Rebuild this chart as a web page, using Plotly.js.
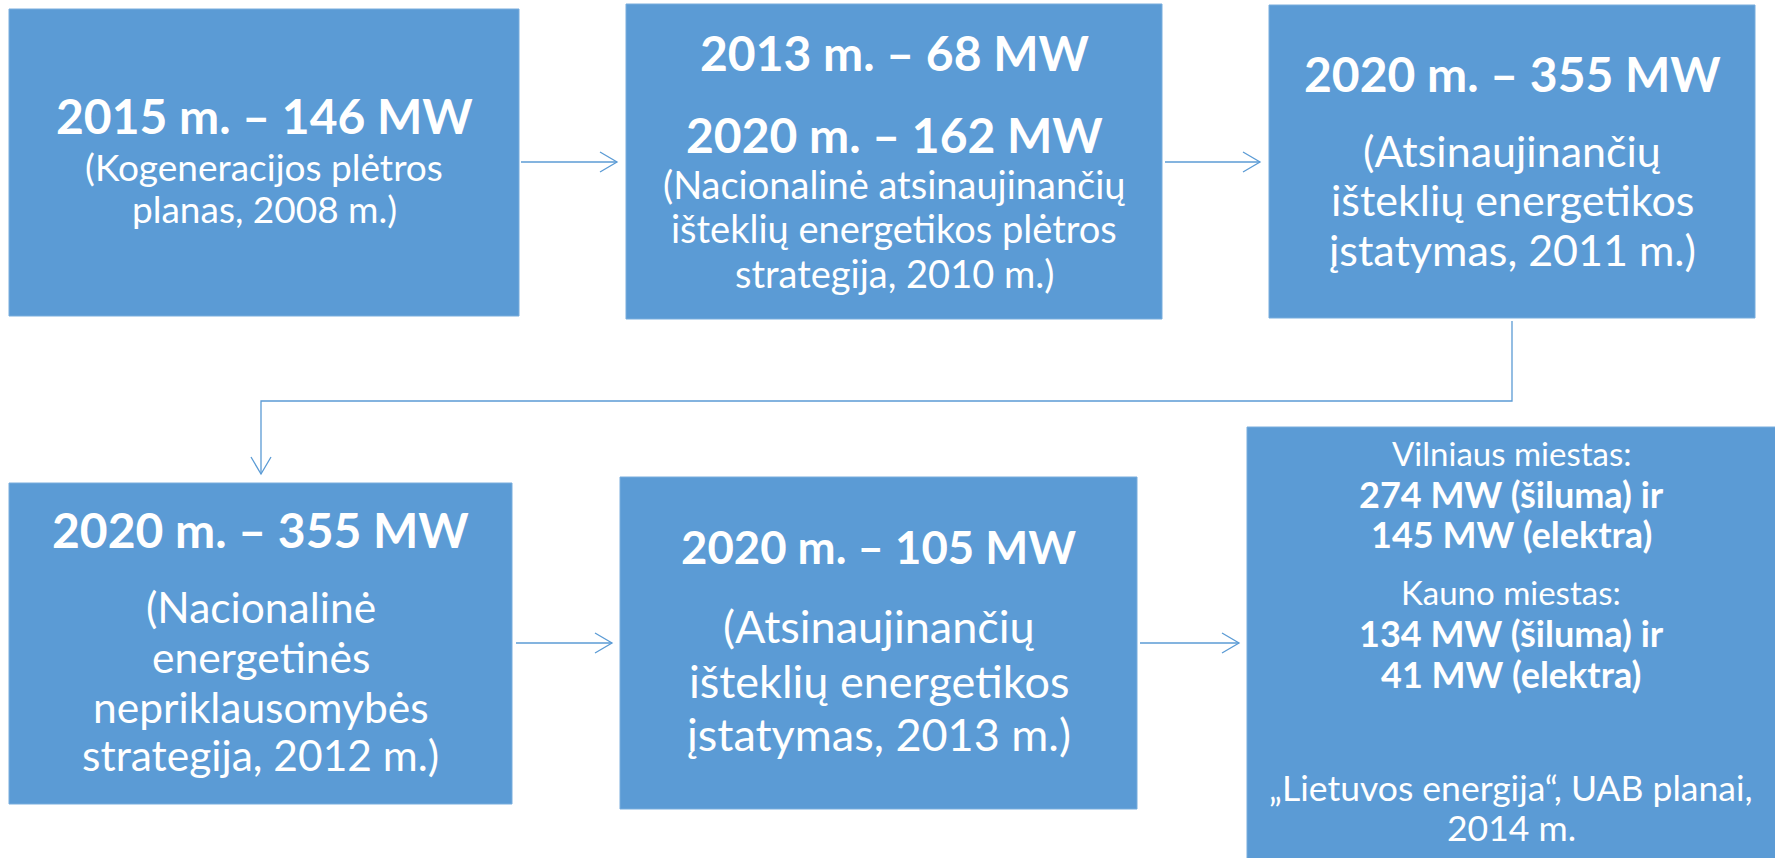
<!DOCTYPE html>
<html>
<head>
<meta charset="utf-8">
<script src="https://cdn.plot.ly/plotly-3.0.1.min.js"></script>
<style>html,body{margin:0;padding:0;background:#fff;}#chart{width:1775px;height:858px;}</style>
</head>
<body>
<div id="chart"></div>
<script>
// ---- content (data) ----
const targetYears = [[2015], [2013, 2020], [2020], [2020], [2020]];
const targetMW    = [[146], [68, 162], [355], [355], [105]];
const sourceLines = [
  ["(Kogeneracijos plėtros", "planas, 2008 m.)"],
  ["(Nacionalinė atsinaujinančių", "išteklių energetikos plėtros", "strategija, 2010 m.)"],
  ["(Atsinaujinančių", "išteklių energetikos", "įstatymas, 2011 m.)"],
  ["(Nacionalinė", "energetinės", "nepriklausomybės", "strategija, 2012 m.)"],
  ["(Atsinaujinančių", "išteklių energetikos", "įstatymas, 2013 m.)"]
];
const cityNames = ["Vilniaus miestas:", "Kauno miestas:"];
const heatMW    = [274, 134];
const powerMW   = [145, 41];
const finalSource = ["„Lietuvos energija“, UAB planai,", "2014 m."];

// ---- layout / styling (pixel geometry of the diagram) ----
const W = 1775, H = 858;
const BLUE = "#5B9BD5";
const FONT = "Lato, 'Open Sans', sans-serif";
const boxes = [
  {x0: 9,    x1: 519,  y0: 9,   y1: 316, tFs: 48, tBase: [133],      nFs: 37, nBase: [180, 222]},
  {x0: 626,  x1: 1162, y0: 4,   y1: 319, tFs: 48, tBase: [70, 152],  nFs: 38, nBase: [198, 242, 287]},
  {x0: 1269, x1: 1755, y0: 5,   y1: 318, tFs: 48, tBase: [91],       nFs: 43, nBase: [166, 215, 265]},
  {x0: 9,    x1: 512,  y0: 483, y1: 804, tFs: 48, tBase: [547],      nFs: 42.5, nBase: [622, 672, 722, 770]},
  {x0: 620,  x1: 1137, y0: 477, y1: 809, tFs: 45.5, tBase: [563],    nFs: 45, nBase: [642, 697, 750]},
  {x0: 1247, x1: 1776, y0: 427, y1: 859}
];
const box6Base = [465, 507, 547, 604, 646, 687, 800, 840];
const box6Fs = {label: 33, value: 36, source: 35.5};

const shapes = [];
const annotations = [];

boxes.forEach(b => {
  shapes.push({type: "rect", xref: "x", yref: "y", x0: b.x0, x1: b.x1, y0: b.y0, y1: b.y1,
    fillcolor: BLUE, line: {color: "#79ADDD", width: 1}, layer: "below"});
});

function addLine(text, cx, base, fs, bold) {
  annotations.push({
    xref: "x", yref: "y", x: cx, y: base - 0.36 * fs, xanchor: "center", yanchor: "middle",
    text: bold ? "<b>" + text + "</b>" : text, showarrow: false,
    font: {family: FONT, size: fs, color: "#ffffff"}
  });
}

for (let i = 0; i < 5; i++) {
  const b = boxes[i], cx = (b.x0 + b.x1) / 2;
  targetYears[i].forEach((yr, k) => addLine(yr + " m. – " + targetMW[i][k] + " MW", cx, b.tBase[k], b.tFs, true));
  sourceLines[i].forEach((t, k) => addLine(t, cx, b.nBase[k], b.nFs, false));
}
{
  const b = boxes[5], cx = (b.x0 + 1775) / 2;
  const lines = [];
  cityNames.forEach((c, k) => {
    lines.push([c, false, box6Fs.label]);
    lines.push([heatMW[k] + " MW (šiluma) ir", true, box6Fs.value]);
    lines.push([powerMW[k] + " MW (elektra)", true, box6Fs.value]);
  });
  finalSource.forEach(t => lines.push([t, false, box6Fs.source]));
  lines.forEach((l, k) => addLine(l[0], cx, box6Base[k], l[2], l[1]));
}

// connectors
const LN = {color: BLUE, width: 1.3};
function hArrow(xa, xb, y) {
  shapes.push({type: "line", x0: xa, x1: xb, y0: y, y1: y, line: LN});
  shapes.push({type: "path", path: `M ${xb - 17} ${y - 10} L ${xb} ${y} L ${xb - 17} ${y + 10}`, line: LN});
}
hArrow(boxes[0].x1 + 2, boxes[1].x0 - 9, 162);
hArrow(boxes[1].x1 + 3, boxes[2].x0 - 9, 162);
hArrow(boxes[3].x1 + 4, boxes[4].x0 - 8, 643);
hArrow(boxes[4].x1 + 3, boxes[5].x0 - 8, 643);
{
  const xs = (boxes[2].x0 + boxes[2].x1) / 2, xe = 261, ym = 401, yt = boxes[3].y0 - 9;
  shapes.push({type: "path", path: `M ${xs} ${boxes[2].y1 + 3} L ${xs} ${ym} L ${xe} ${ym} L ${xe} ${yt}`, line: LN});
  shapes.push({type: "path", path: `M ${xe - 10} ${yt - 17} L ${xe} ${yt} L ${xe + 10} ${yt - 17}`, line: LN});
}

Plotly.newPlot("chart", [], {
  width: W, height: H,
  margin: {l: 0, r: 0, t: 0, b: 0},
  paper_bgcolor: "#ffffff", plot_bgcolor: "#ffffff",
  xaxis: {range: [0, W], visible: false, fixedrange: true},
  yaxis: {range: [H, 0], visible: false, fixedrange: true},
  shapes: shapes, annotations: annotations, showlegend: false
}, {displayModeBar: false, staticPlot: true});
</script>
</body>
</html>
